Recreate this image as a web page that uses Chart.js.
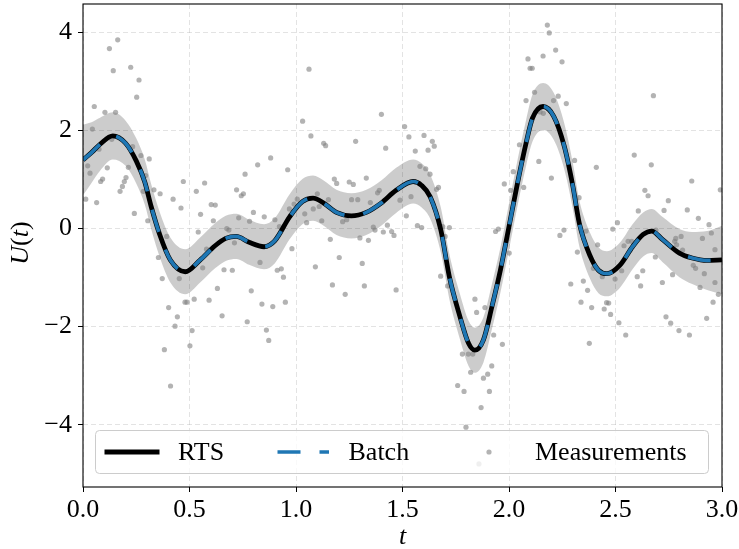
<!DOCTYPE html>
<html>
<head>
<meta charset="utf-8">
<title>RTS vs Batch</title>
<script src="https://cdn.jsdelivr.net/npm/chart.js@4.4.0/dist/chart.umd.min.js"></script>
<style>
    html, body { margin: 0; padding: 0; background: #ffffff; }
    #chart { display: block; }
</style>
</head>
<body>
<canvas id="chart" width="739" height="549"></canvas>
<script>
// Smoother mean (RTS and batch coincide)
const knotT = [0.00, 0.04, 0.08, 0.14, 0.20, 0.25, 0.29, 0.32, 0.36, 0.41, 0.48, 0.55, 0.62, 0.67, 0.72, 0.78, 0.85, 0.90, 0.97,
    1.03, 1.08, 1.13, 1.19, 1.26, 1.33, 1.40, 1.47, 1.55, 1.59, 1.63, 1.68, 1.72, 1.77, 1.81, 1.84, 1.88, 1.92, 1.96,
    2.00, 2.04, 2.08, 2.11, 2.16, 2.21, 2.26, 2.30, 2.33, 2.38, 2.42, 2.46, 2.52, 2.58, 2.63, 2.67, 2.72, 2.80, 2.86, 2.93, 3.00];
const rtsMean = [1.40, 1.55, 1.72, 1.89, 1.74, 1.38, 0.95, 0.45, -0.12, -0.64, -0.88, -0.64, -0.35, -0.20, -0.16, -0.28, -0.37, -0.25, 0.24,
    0.55, 0.62, 0.52, 0.33, 0.26, 0.33, 0.52, 0.78, 0.96, 0.88, 0.65, -0.03, -0.98, -1.80, -2.34, -2.48, -2.27, -1.59, -0.84,
    0.04, 0.93, 1.74, 2.25, 2.49, 2.29, 1.67, 0.86, 0.11, -0.55, -0.85, -0.92, -0.75, -0.37, -0.12, -0.05, -0.22, -0.50, -0.60, -0.65, -0.64];
const batchMean = rtsMean.slice();
// half width of the grey band at each knot
const bandHalf = [0.72, 0.62, 0.54, 0.48, 0.46, 0.46, 0.46, 0.46, 0.46, 0.46, 0.46, 0.46, 0.46, 0.46, 0.46, 0.46, 0.46, 0.46, 0.46,
    0.46, 0.46, 0.46, 0.46, 0.46, 0.46, 0.46, 0.46, 0.45, 0.45, 0.45, 0.46, 0.46, 0.46, 0.46, 0.46, 0.46, 0.46, 0.46,
    0.47, 0.47, 0.47, 0.48, 0.48, 0.48, 0.47, 0.47, 0.47, 0.47, 0.47, 0.46, 0.46, 0.46, 0.45, 0.45, 0.46, 0.49, 0.53, 0.60, 0.70];

// Noisy measurements
const measT = [0.013, 0.022, 0.033, 0.044, 0.053, 0.064, 0.075, 0.083, 0.092, 0.103, 0.114, 0.124, 0.135, 0.142, 0.153, 0.163, 0.174, 0.185,
    0.194, 0.202, 0.213, 0.224, 0.233, 0.241, 0.252, 0.263, 0.272, 0.283, 0.294, 0.304, 0.311, 0.333, 0.354, 0.362, 0.372, 0.382,
    0.393, 0.402, 0.411, 0.423, 0.432, 0.443, 0.452, 0.460, 0.471, 0.479, 0.488, 0.502, 0.512, 0.522, 0.532, 0.541, 0.552, 0.562,
    0.571, 0.580, 0.592, 0.602, 0.612, 0.621, 0.631, 0.653, 0.662, 0.675, 0.685, 0.701, 0.711, 0.721, 0.731, 0.743, 0.753, 0.761,
    0.771, 0.782, 0.790, 0.800, 0.820, 0.831, 0.840, 0.851, 0.861, 0.872, 0.881, 0.891, 0.901, 0.912, 0.922, 0.931, 0.941, 0.950,
    0.961, 0.969, 0.981, 0.991, 1.006, 1.031, 1.041, 1.050, 1.061, 1.070, 1.081, 1.091, 1.100, 1.109, 1.121, 1.130, 1.139, 1.152,
    1.161, 1.171, 1.180, 1.191, 1.203, 1.219, 1.231, 1.238, 1.250, 1.261, 1.269, 1.280, 1.290, 1.300, 1.311, 1.321, 1.330, 1.340,
    1.349, 1.363, 1.371, 1.383, 1.391, 1.401, 1.410, 1.421, 1.429, 1.449, 1.460, 1.470, 1.488, 1.510, 1.518, 1.530, 1.540, 1.560,
    1.570, 1.582, 1.590, 1.601, 1.609, 1.620, 1.629, 1.640, 1.649, 1.660, 1.669, 1.679, 1.689, 1.700, 1.712, 1.720, 1.759, 1.781,
    1.789, 1.798, 1.809, 1.820, 1.830, 1.840, 1.848, 1.859, 1.869, 1.880, 1.887, 1.900, 1.908, 1.919, 1.928, 1.937, 1.950, 1.969,
    1.978, 2.001, 2.008, 2.020, 2.049, 2.069, 2.080, 2.089, 2.099, 2.109, 2.120, 2.140, 2.146, 2.160, 2.161, 2.180, 2.189, 2.199,
    2.209, 2.219, 2.231, 2.239, 2.249, 2.258, 2.269, 2.290, 2.308, 2.321, 2.329, 2.338, 2.349, 2.362, 2.369, 2.377, 2.388, 2.396,
    2.410, 2.416, 2.438, 2.447, 2.458, 2.468, 2.477, 2.487, 2.498, 2.509, 2.516, 2.529, 2.540, 2.548, 2.559, 2.576, 2.588, 2.602,
    2.607, 2.618, 2.628, 2.638, 2.653, 2.668, 2.678, 2.687, 2.690, 2.720, 2.728, 2.737, 2.748, 2.759, 2.768, 2.778, 2.783, 2.787,
    2.798, 2.808, 2.815, 2.837, 2.847, 2.858, 2.865, 2.876, 2.889, 2.897, 2.908, 2.917, 2.928, 2.939, 2.950, 2.958, 2.967, 2.967,
    2.983, 2.992];
const measU = [0.60, 1.28, 1.13, 2.03, 2.49, 0.53, 1.62, 0.96, 1.01, 2.37, 1.24, 3.67, 1.82, 3.22, 2.37, 3.85, 0.76, 0.86,
    0.96, 1.04, 1.25, 3.29, 1.67, 0.31, 2.68, 3.03, 1.49, 0.76, 1.08, 0.16, 1.42, 0.79, -0.59, 0.71, -1.02, -2.47,
    -0.16, -1.61, -3.21, 0.60, -1.99, -1.80, -1.02, 0.42, 0.96, -1.50, -1.50, -2.39, -2.08, -1.44, 0.76, -0.07, 0.29, -0.80,
    0.93, -0.42, -1.46, 0.49, 0.16, 0.48, -1.22, -1.78, -0.84, 0.00, -0.03, -0.85, -0.29, 0.79, 0.22, 0.67, 0.71, 1.11,
    -1.90, 0.15, -1.27, 0.33, 1.30, -0.69, -1.54, 0.24, -2.07, -2.28, 1.44, -1.59, 0.18, -0.85, 0.04, -0.82, -0.99, -1.50,
    1.20, 0.40, -0.41, 0.50, 0.60, 2.19, 0.30, 0.12, 3.25, 1.89, 0.40, -0.78, 0.71, 0.45, 0.16, 1.74, 1.69, 0.59,
    -0.22, -1.15, 1.01, 0.92, -0.59, 0.14, -1.34, 0.18, 0.95, 0.59, 0.90, 1.78, 0.59, -0.19, -0.71, -1.17, 1.03, -0.24,
    0.53, 0.03, -0.03, 0.73, 0.78, 2.33, -0.07, 1.64, 0.07, -0.06, -0.14, -1.25, 0.58, 2.08, 0.26, 1.87, 0.65, 1.58,
    0.06, 1.27, 0.02, 1.90, 1.22, 1.60, 1.11, 1.78, 1.68, 0.80, 0.84, -0.97, 0.04, -0.16, -1.17, 0.02, -3.20, -2.56,
    -3.32, -4.05, -2.56, -2.93, -2.56, -1.44, -1.71, -4.80, -3.65, -3.05, -1.61, -2.97, -3.32, -2.80, -2.17, -0.06, -0.01, -2.36,
    0.91, -0.50, 0.78, 1.16, 1.71, 0.84, 2.61, 3.46, 3.27, 3.27, 2.78, 1.37, 2.38, 3.52, 2.35, 4.15, 3.99, 1.03,
    2.61, 3.64, 2.70, -0.14, 3.40, -0.03, 2.55, -1.13, 1.39, -0.48, 0.63, -1.50, -1.07, -0.05, -1.26, -2.34, -1.61, -0.81,
    1.25, -0.33, -0.98, -1.64, -1.51, -1.52, -1.75, -0.01, -1.03, 0.12, -1.92, -0.86, -0.35, -2.17, -0.26, -0.26, 1.50, -0.98,
    0.36, -1.17, -0.86, 0.78, 0.67, 1.30, 2.71, -0.58, -0.03, -1.10, 0.37, -1.80, 0.57, -1.93, -0.94, -0.26, -0.20, -0.33,
    -2.08, -0.16, -0.44, 0.38, -2.17, 0.97, -0.75, -0.81, 0.21, -1.20, -0.20, -0.92, -1.83, 0.08, -0.09, -1.50, -0.43, -1.10,
    -1.34, 0.79];

// Axis ticks
const xTicks = [0, 0.5, 1.0, 1.5, 2.0, 2.5, 3.0];
const yTicks = [-4, -2, 0, 2, 4];

const FONT = '"Liberation Serif", "DejaVu Serif", serif';
const BLUE = '#1f77b4';

function toPoints(xs, ys) {
    return xs.map((x, i) => ({ x: x, y: ys[i] }));
}

const upperBand = rtsMean.map((m, i) => m + bandHalf[i]);
const lowerBand = rtsMean.map((m, i) => m - bandHalf[i]);

// frame around the plot, axis labels and the boxed legend
const decorPlugin = {
    id: 'decor',
    afterDatasetsDraw(chart) {
        const ctx = chart.ctx;
        const a = chart.chartArea;
        ctx.save();
        ctx.strokeStyle = '#000';
        ctx.lineWidth = 1.1;
        ctx.strokeRect(a.left, a.top, a.right - a.left, a.bottom - a.top);
        ctx.restore();
    },
    afterDraw(chart) {
        const ctx = chart.ctx;
        const a = chart.chartArea;
        ctx.save();
        ctx.fillStyle = '#000';
        ctx.textBaseline = 'middle';

        // x label
        ctx.font = 'italic 26px ' + FONT;
        ctx.textAlign = 'center';
        ctx.fillText('t', (a.left + a.right) / 2, 537);

        // y label U(t), mixed italic / upright
        const parts = [['U', 'italic'], ['(', 'normal'], ['t', 'italic'], [')', 'normal']];
        let total = 0;
        parts.forEach(p => { ctx.font = p[1] + ' 26px ' + FONT; total += ctx.measureText(p[0]).width; });
        ctx.translate(21, 243);
        ctx.rotate(-Math.PI / 2);
        ctx.textAlign = 'left';
        let pos = -total / 2;
        parts.forEach(p => {
            ctx.font = p[1] + ' 26px ' + FONT;
            ctx.fillText(p[0], pos, 0);
            pos += ctx.measureText(p[0]).width;
        });
        ctx.restore();

        // legend
        ctx.save();
        const lx = 95.5, ly = 430.5, lw = 613, lh = 43, r = 4;
        ctx.beginPath();
        ctx.moveTo(lx + r, ly);
        ctx.arcTo(lx + lw, ly, lx + lw, ly + lh, r);
        ctx.arcTo(lx + lw, ly + lh, lx, ly + lh, r);
        ctx.arcTo(lx, ly + lh, lx, ly, r);
        ctx.arcTo(lx, ly, lx + lw, ly, r);
        ctx.closePath();
        ctx.fillStyle = 'rgba(255,255,255,0.8)';
        ctx.fill();
        ctx.strokeStyle = '#cccccc';
        ctx.lineWidth = 1;
        ctx.stroke();

        const cy = ly + lh / 2;
        ctx.lineCap = 'butt';
        ctx.strokeStyle = '#000';
        ctx.lineWidth = 4.8;
        ctx.beginPath(); ctx.moveTo(104.5, cy); ctx.lineTo(159.5, cy); ctx.stroke();

        ctx.strokeStyle = BLUE;
        ctx.lineWidth = 3.7;
        ctx.setLineDash([23, 19]);
        ctx.beginPath(); ctx.moveTo(277.5, cy); ctx.lineTo(329, cy); ctx.stroke();
        ctx.setLineDash([]);

        ctx.fillStyle = 'rgba(128,128,128,0.6)';
        ctx.beginPath(); ctx.arc(489, cy, 2.6, 0, Math.PI * 2); ctx.fill();

        ctx.fillStyle = '#000';
        ctx.font = '26px ' + FONT;
        ctx.textAlign = 'left';
        ctx.textBaseline = 'middle';
        ctx.fillText('RTS', 178, cy + 1);
        ctx.fillText('Batch', 348.5, cy + 1);
        ctx.fillText('Measurements', 535, cy + 1);
        ctx.restore();
    }
};

function buildChart() {
    const ctx = document.getElementById('chart').getContext('2d');
    return new Chart(ctx, {
        type: 'line',
        data: {
            datasets: [
                {
                    label: 'Batch',
                    data: toPoints(knotT, batchMean),
                    borderColor: BLUE,
                    borderWidth: 3.7,
                    borderDash: [23, 19],
                    pointRadius: 0,
                    cubicInterpolationMode: 'monotone',
                    fill: false,
                    order: 0
                },
                {
                    label: 'RTS',
                    data: toPoints(knotT, rtsMean),
                    borderColor: '#000000',
                    borderWidth: 4.8,
                    pointRadius: 0,
                    cubicInterpolationMode: 'monotone',
                    fill: false,
                    order: 1
                },
                {
                    label: 'Measurements',
                    data: toPoints(measT, measU),
                    showLine: false,
                    pointRadius: 2.6,
                    pointBorderWidth: 0,
                    pointBackgroundColor: 'rgba(128,128,128,0.6)',
                    order: 2
                },
                {
                    label: 'upper',
                    data: toPoints(knotT, upperBand),
                    borderWidth: 0,
                    borderColor: 'rgba(0,0,0,0)',
                    backgroundColor: 'rgba(0,0,0,0.2)',
                    pointRadius: 0,
                    cubicInterpolationMode: 'monotone',
                    fill: '+1',
                    order: 3
                },
                {
                    label: 'lower',
                    data: toPoints(knotT, lowerBand),
                    borderWidth: 0,
                    borderColor: 'rgba(0,0,0,0)',
                    pointRadius: 0,
                    cubicInterpolationMode: 'monotone',
                    fill: false,
                    order: 4
                }
            ]
        },
        options: {
            responsive: false,
            animation: false,
            devicePixelRatio: 1,
            layout: { padding: { left: 0, top: 3, right: 17, bottom: 0 } },
            plugins: {
                legend: { display: false },
                tooltip: { enabled: false }
            },
            scales: {
                x: {
                    type: 'linear',
                    min: 0,
                    max: 3,
                    afterBuildTicks: scale => { scale.ticks = xTicks.map(v => ({ value: v })); },
                    afterFit: scale => { scale.height = 62; scale.paddingLeft = 0; scale.paddingRight = 0; },
                    ticks: {
                        color: '#000',
                        font: { family: FONT, size: 26 },
                        padding: 3,
                        maxRotation: 0,
                        callback: v => Number(v).toFixed(1)
                    },
                    grid: {
                        color: 'rgba(176,176,176,0.35)',
                        lineWidth: 1,
                        tickColor: '#000',
                        tickLength: 5,
                        tickWidth: 1,
                        tickBorderDash: []
                    },
                    border: { display: false, dash: [5, 3] }
                },
                y: {
                    type: 'linear',
                    min: -5.27,
                    max: 4.58,
                    afterBuildTicks: scale => { scale.ticks = yTicks.map(v => ({ value: v })); },
                    afterFit: scale => { scale.width = 83; scale.paddingTop = 0; scale.paddingBottom = 0; },
                    ticks: {
                        color: '#000',
                        font: { family: FONT, size: 26 },
                        padding: 6,
                        callback: v => (v < 0 ? '\u2212' + Math.abs(v) : String(v))
                    },
                    grid: {
                        color: 'rgba(176,176,176,0.35)',
                        lineWidth: 1,
                        tickColor: '#000',
                        tickLength: 5,
                        tickWidth: 1,
                        tickBorderDash: []
                    },
                    border: { display: false, dash: [5, 3] }
                }
            }
        },
        plugins: [decorPlugin]
    });
}

buildChart();
</script>
</body>
</html>
